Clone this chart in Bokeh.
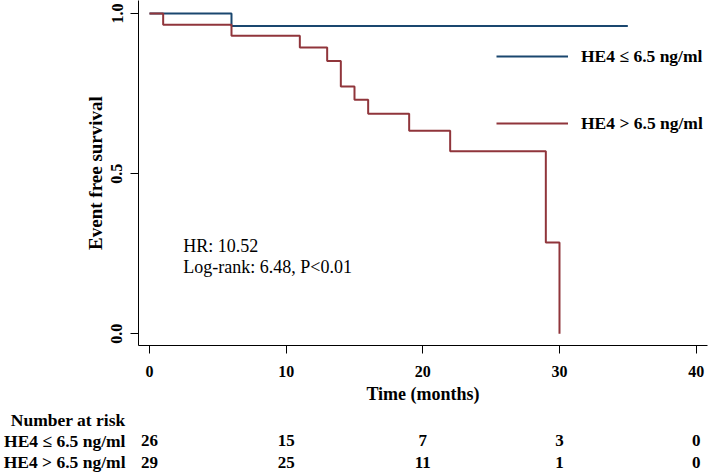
from bokeh.plotting import figure
from bokeh.layouts import column
from bokeh.models import (Range1d, FixedTicker, PrintfTickFormatter, Label, Legend, LegendItem)
from bokeh.core.properties import value
from bokeh.embed import file_html
from bokeh.resources import INLINE

# ---- data ----
blue_time = [0, 6, 35]
blue_surv = [1.0, 0.9615, 0.9615]
red_time = [0, 1, 6, 11, 13, 14, 15, 16, 19, 22, 29, 30]
red_surv = [1.0, 0.9655, 0.931, 0.894, 0.852, 0.772, 0.731, 0.687, 0.634, 0.570, 0.285, 0.0]
x_ticks = [0, 10, 20, 30, 40]
y_ticks = [0.0, 0.5, 1.0]
group_labels = ["HE4 \u2264 6.5 ng/ml", "HE4 > 6.5 ng/ml"]
table_title = "Number at risk"
risk_times = [0, 10, 20, 30, 40]
risk_low = [26, 15, 7, 3, 0]
risk_high = [29, 25, 11, 1, 0]
stats_lines = ["HR: 10.52", "Log-rank: 6.48, P<0.01"]

BLUE = "#1a476f"
RED = "#90353b"
FONT = "Liberation Serif"

W = 709
H_MAIN = 406
H_TABLE = 473 - H_MAIN

p = figure(width=W, height=H_MAIN, output_backend="svg", toolbar_location=None,
           x_range=Range1d(-0.805, 40.83), y_range=Range1d(-0.037, 1.041),
           min_border_left=138, min_border_right=2, min_border_top=0, min_border_bottom=57)
p.outline_line_color = None
p.xgrid.visible = False
p.ygrid.visible = False
p.background_fill_color = "white"
p.border_fill_color = "white"

for ax in (p.xaxis[0], p.yaxis[0]):
    ax.axis_line_color = "black"
    ax.major_tick_line_color = "black"
    ax.major_tick_out = 8
    ax.major_tick_in = 0
    ax.minor_tick_line_color = None
    ax.major_label_text_font = FONT
    ax.major_label_text_font_style = "bold"
    ax.major_label_text_font_size = "16px"
    ax.major_label_text_color = "black"
    ax.axis_label_text_font = FONT
    ax.axis_label_text_font_style = "bold"
    ax.axis_label_text_color = "black"

p.xaxis.ticker = FixedTicker(ticks=x_ticks)
p.xaxis.axis_label = "Time (months)"
p.xaxis.axis_label_text_font_size = "18px"
p.xaxis.major_label_standoff = 12
p.xaxis.axis_label_standoff = 4

p.yaxis.ticker = FixedTicker(ticks=y_ticks)
p.yaxis.formatter = PrintfTickFormatter(format="%.1f")
p.yaxis.major_label_orientation = "parallel"
p.yaxis.axis_label = "Event free survival"
p.yaxis.axis_label_text_font_size = "19px"
p.yaxis.major_label_standoff = 8
p.yaxis.axis_label_standoff = 3

r_blue = p.step(blue_time, blue_surv, mode="after", line_color=BLUE, line_width=2)
r_red = p.step(red_time, red_surv, mode="after", line_color=RED, line_width=2)

legend = Legend(items=[LegendItem(label=group_labels[0], renderers=[r_blue]),
                       LegendItem(label=group_labels[1], renderers=[r_red])],
                location=(358, 210), glyph_width=72, glyph_height=24, label_height=24,
                label_standoff=13, spacing=43, padding=0, margin=0,
                border_line_color=None, background_fill_alpha=0,
                label_text_font=FONT, label_text_font_style="bold",
                label_text_font_size="17.5px", label_text_color="black")
p.add_layout(legend)

# statistics annotation
for txt, yy in zip(stats_lines, [0.274, 0.209]):
    p.add_layout(Label(x=2.47, y=yy, text=txt, text_font=FONT, text_font_size="18px",
                       text_baseline="alphabetic", text_align="left", text_color="black"))

# ---- number at risk table (shares the month scale of the main plot) ----
t = figure(width=W, height=H_TABLE, output_backend="svg", toolbar_location=None,
           x_range=p.x_range, y_range=Range1d(0.471, 3.609),
           x_axis_location=None,
           min_border_left=138, min_border_right=2, min_border_top=0, min_border_bottom=0)
t.outline_line_color = None
t.xgrid.visible = False
t.ygrid.visible = False
t.background_fill_color = "white"
t.border_fill_color = "white"

row_codes = [2, 1]
ya = t.yaxis[0]
ya.ticker = FixedTicker(ticks=[3] + row_codes)
ya.major_label_overrides = {3: table_title, 2: group_labels[0], 1: group_labels[1]}
ya.axis_line_color = None
ya.major_tick_line_color = None
ya.minor_tick_line_color = None
ya.major_tick_out = 0
ya.major_tick_in = 0
ya.major_label_standoff = 13
ya.major_label_text_font = FONT
ya.major_label_text_font_style = "bold"
ya.major_label_text_font_size = "17.5px"
ya.major_label_text_color = "black"

for counts, code in zip([risk_low, risk_high], row_codes):
    t.text(x=risk_times, y=[code] * len(risk_times), text=[str(c) for c in counts],
           text_font=value(FONT), text_font_style="bold", text_font_size="17px",
           text_align="center", text_baseline="middle", text_color="black")

layout = column(p, t, spacing=0)
open("out.html", "w").write(file_html(layout, INLINE))
